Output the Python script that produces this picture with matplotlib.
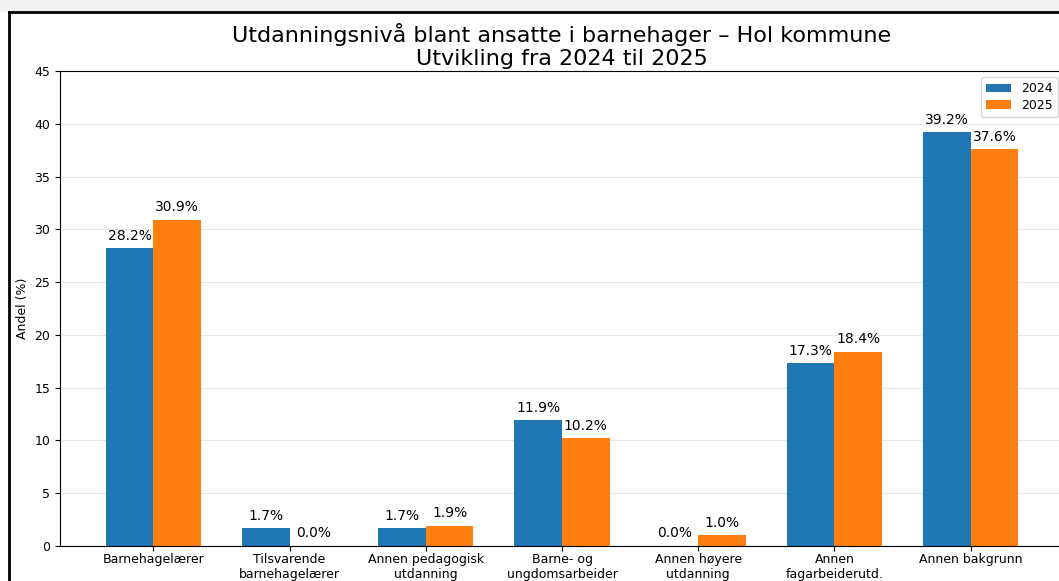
import numpy as np
import matplotlib.pyplot as plt
from matplotlib.patches import Rectangle
from matplotlib.lines import Line2D

categories = ["Barnehagelærer", "Tilsvarende\nbarnehagelærer", "Annen pedagogisk\nutdanning",
              "Barne- og\nungdomsarbeider", "Annen høyere\nutdanning", "Annen\nfagarbeiderutd.",
              "Annen bakgrunn"]
andel_2024 = [28.2, 1.7, 1.7, 11.9, 0.0, 17.3, 39.2]
andel_2025 = [30.9, 0.0, 1.9, 10.2, 1.0, 18.4, 37.6]

W, H = 1059, 581
fig = plt.figure(figsize=(W / 100, H / 100), dpi=100)

# screenshot frame (top shading + black border)
fig.patches.append(Rectangle((0, 1 - 12 / H), 1, 12 / H, transform=fig.transFigure,
                             facecolor="#f3f3f3", edgecolor="none", zorder=0))
fig.lines.append(Line2D([8.5 / W, 8.5 / W], [0, 1 - 12 / H], transform=fig.transFigure,
                        color="black", lw=2))
fig.lines.append(Line2D([8.5 / W, 1], [1 - 12 / H, 1 - 12 / H], transform=fig.transFigure,
                        color="black", lw=2))

ax = fig.add_axes([60 / W, (H - 546) / H, 1004 / W, 475 / H])

x = np.arange(len(categories))
w = 0.35
b1 = ax.bar(x - w / 2, andel_2024, w, label="2024", color="#1f77b4")
b2 = ax.bar(x + w / 2, andel_2025, w, label="2025", color="#ff7f0e")

for bars in (b1, b2):
    for b in bars:
        h = b.get_height()
        ax.annotate(f"{h:.1f}%", (b.get_x() + b.get_width() / 2, h),
                    xytext=(0, 4), textcoords="offset points",
                    ha="center", va="bottom", fontsize=10)

ax.set_ylim(0, 45)
ax.set_xticks(x)
ax.set_xticklabels(categories, fontsize=9)
ax.tick_params(axis="x", pad=1.5)
ax.tick_params(axis="y", labelsize=9)
ax.set_ylabel("Andel (%)", fontsize=9)
ax.set_title("Utdanningsnivå blant ansatte i barnehager – Hol kommune\nUtvikling fra 2024 til 2025",
             fontsize=16, pad=4)
ax.yaxis.grid(True, alpha=0.3)
ax.set_axisbelow(True)
ax.legend(loc="upper right", fontsize=9, labelspacing=0.3)

fig.savefig("out.png", dpi=100)
